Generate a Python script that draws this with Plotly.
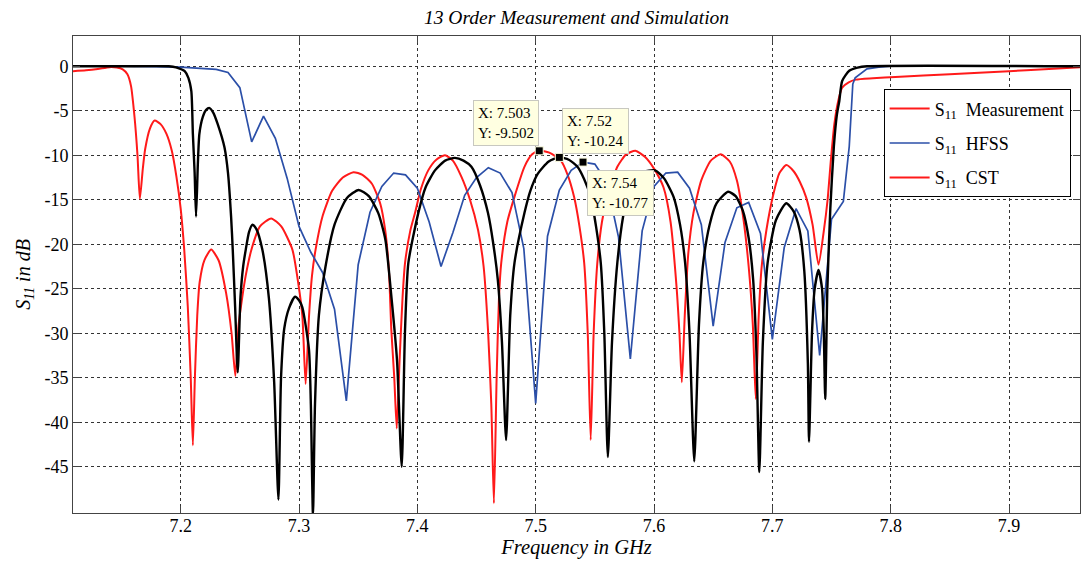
import plotly.graph_objects as go

# ---------------- data ----------------
meas_f = [7.109, 7.12, 7.13, 7.140, 7.146, 7.151, 7.155, 7.158, 7.161, 7.1635, 7.1655, 7.168, 7.170, 7.174,
          7.178, 7.183, 7.188, 7.1925, 7.1964, 7.200, 7.203, 7.206, 7.2085, 7.2103, 7.212, 7.214, 7.216, 7.220,
          7.2258, 7.232, 7.2384, 7.243, 7.2462, 7.249, 7.252, 7.255, 7.260, 7.267, 7.2765, 7.285, 7.2944, 7.2995,
          7.3028, 7.3056, 7.3085, 7.311, 7.314, 7.320, 7.328, 7.337, 7.346, 7.3536, 7.3616, 7.3688, 7.3728, 7.376,
          7.378, 7.3805, 7.3826, 7.385, 7.3875, 7.3896, 7.394, 7.398, 7.403, 7.4092, 7.416, 7.4233, 7.430, 7.4372,
          7.4445, 7.4513, 7.456, 7.4597, 7.4625, 7.4647, 7.467, 7.4690, 7.4709, 7.476, 7.482, 7.4905, 7.497, 7.503,
          7.5115, 7.5213, 7.527, 7.5325, 7.537, 7.541, 7.5440, 7.5465, 7.549, 7.5521, 7.5560, 7.5605, 7.569, 7.5765,
          7.5843, 7.5925, 7.600, 7.608, 7.614, 7.619, 7.6215, 7.6235, 7.626, 7.629, 7.6333, 7.640, 7.648, 7.6563,
          7.664, 7.670, 7.6753, 7.680, 7.6835, 7.686, 7.6885, 7.691, 7.695, 7.701, 7.706, 7.7118, 7.718, 7.7233,
          7.7285, 7.734, 7.739, 7.7435, 7.7467, 7.7495, 7.7524, 7.7555, 7.759, 7.7645, 7.7706, 7.785, 7.804, 7.85,
          7.90, 7.93, 7.96]
meas_db = [-0.55, -0.45, -0.3, -0.1, -0.15, -0.35, -0.9, -2.2, -5.7, -10, -14.9, -11.5, -9.3, -7.0,
           -6.1, -6.5, -7.6, -9.5, -12.4, -16, -20.6, -27, -35, -42.6, -35, -28, -24.3, -21.8,
           -20.6, -21.8, -25.5, -30, -34.8, -29, -26, -23.5, -20.5, -18.0, -17.1, -18.0, -20.6, -24.5,
           -28, -35.7, -28, -23.5, -20.6, -16.8, -14.0, -12.5, -11.9, -12.2, -13.2, -15.5, -18.4, -23,
           -29.6, -35, -40.7, -33, -26, -22.1, -18.5, -16.5, -13.8, -11.7, -10.5, -10.0, -10.6, -12.4,
           -15, -18.4, -22.5, -29.6, -38, -49.1, -35, -26, -22.1, -17.5, -14.7, -11.3, -9.9, -9.5,
           -9.7, -10.6, -12.2, -14.7, -18, -22.1, -30, -42, -30, -22.1, -17.5, -14.7, -11.3, -9.9,
           -9.5, -10.2, -11.5, -13.6, -17.5, -24.7, -30, -35.5, -28, -21, -16.5, -12.8, -10.6, -9.9,
           -10.7, -12.8, -16.9, -22.5, -29, -37.4, -28, -22.5, -18.4, -14.3, -12.0, -11.1, -11.8, -13.0,
           -14.7, -17.8, -22.3, -18.5, -15, -10.5, -6.5, -4.0, -2.4, -1.8, -1.5, -1.35, -1.2, -0.9,
           -0.55, -0.35, -0.1]

hfss_f = [7.109, 7.15, 7.20, 7.23, 7.24, 7.25, 7.26, 7.27, 7.28, 7.29, 7.30, 7.31, 7.32, 7.33, 7.34, 7.35,
          7.36, 7.37, 7.38, 7.39, 7.40, 7.41, 7.42, 7.43, 7.44, 7.45, 7.46, 7.47, 7.48, 7.49, 7.50, 7.51,
          7.52, 7.53, 7.54, 7.55, 7.56, 7.57, 7.58, 7.59, 7.60, 7.61, 7.62, 7.63, 7.64, 7.65, 7.66, 7.67,
          7.68, 7.69, 7.70, 7.71, 7.72, 7.73, 7.74, 7.75, 7.76, 7.765, 7.768, 7.77, 7.78, 7.79, 7.80, 7.96]
hfss_db = [0, 0, -0.1, -0.35, -0.7, -2.4, -8.5, -5.6, -8.1, -12.6, -18, -20.9, -23.2, -27.3, -37.6, -22.3,
           -16.4, -13.5, -12.0, -12.2, -13.7, -17.5, -22.5, -18.7, -14.5, -12.5, -11.4, -12.0, -14.2, -20.5, -37.9, -19.1,
           -13.9, -11.7, -10.77, -11.0, -13.0, -19.2, -32.9, -18.5, -13.5, -12.0, -11.9, -13.7, -17.8, -29.2, -19.8, -15.9,
           -15.3, -18.8, -30.7, -20.4, -16.0, -18.5, -32.5, -17.2, -15.2, -9.0, -2.0, -1.3, -0.3, -0.1, 0, 0]

cst_f = [7.109, 7.15, 7.19, 7.1935, 7.198, 7.2034, 7.2065, 7.209, 7.2103, 7.2118, 7.213, 7.2145, 7.2158, 7.2187,
         7.2215, 7.2244, 7.2275, 7.2313, 7.237, 7.240, 7.2426, 7.244, 7.246, 7.2482, 7.2505, 7.2528, 7.255, 7.2578,
         7.2608, 7.264, 7.269, 7.2745, 7.279, 7.2826, 7.2848, 7.2875, 7.2915, 7.2966, 7.300, 7.3028, 7.3084,
         7.310, 7.3118, 7.3135, 7.3168, 7.3224, 7.330, 7.3405, 7.3504, 7.359, 7.367, 7.373, 7.378, 7.3828, 7.3868,
         7.3895, 7.3924, 7.4008, 7.407, 7.4149, 7.4235, 7.4317, 7.439, 7.4457, 7.453, 7.4597, 7.464, 7.468, 7.4715,
         7.475, 7.4785, 7.4821, 7.4905, 7.4955, 7.5017, 7.511, 7.52, 7.528, 7.5353, 7.541, 7.5465, 7.551, 7.555,
         7.558, 7.561, 7.5645, 7.569, 7.574, 7.58, 7.590, 7.601, 7.6085, 7.6166, 7.622, 7.6263, 7.630, 7.634,
         7.638, 7.6416, 7.647, 7.6528, 7.6626, 7.669, 7.675, 7.680, 7.6838, 7.6865, 7.689, 7.692, 7.696, 7.703,
         7.7118, 7.718, 7.723, 7.727, 7.730, 7.731, 7.7335, 7.7357, 7.739, 7.742, 7.7435, 7.7447, 7.7465, 7.749,
         7.752, 7.7545, 7.7566, 7.759, 7.765, 7.772, 7.78, 7.96]
cst_db = [0, 0, 0, -0.05, -0.2, -0.55, -1.3, -2.8, -7.6, -12, -16.9, -11, -7.6, -5.7,
          -4.9, -4.7, -5.2, -6.5, -9.1, -12, -16.9, -20.6, -27, -34.4, -26, -22.5, -20.6, -18.6,
          -17.8, -18.3, -20.6, -26, -35.5, -48.7, -35, -29.5, -27.2, -25.9, -26.3, -27.1, -31.8,
          -38, -50.5, -38, -28, -22.5, -17.8, -14.8, -13.9, -14.6, -16.5, -19.5, -25.8, -33, -45,
          -30, -22.1, -16.5, -13.6, -11.7, -10.6, -10.3, -10.6, -11.3, -13.4, -16.5, -19.8, -24, -31,
          -42, -28, -22.1, -16.5, -14, -12.1, -10.7, -10.24, -10.5, -11.3, -12.7, -14.7, -18, -22.1,
          -30, -43.9, -31, -22.1, -16.8, -13.2, -11.9, -11.7, -12.6, -14.7, -17.8, -22.1, -30, -44.4,
          -29, -22.1, -17.8, -15.4, -14.1, -14.6, -16.2, -19.3, -24, -32, -45.6, -31, -22.1, -17.3,
          -15.4, -16.3, -18.4, -23, -33.3, -42.2, -30, -25.1, -22.9, -25, -30, -37.4, -25, -16,
          -9, -5.5, -3.9, -1.65, -0.5, -0.15, 0, 0]

tip_f = [7.503, 7.52, 7.54]
tip_db = [-9.502, -10.24, -10.77]
tip_text = ["X: 7.503<br>Y: -9.502", "X: 7.52<br>Y: -10.24", "X: 7.54<br>Y: -10.77"]

x_ticks = [7.2, 7.3, 7.4, 7.5, 7.6, 7.7, 7.8, 7.9]
x_tick_labels = ["7.2", "7.3", "7.4", "7.5", "7.6", "7.7", "7.8", "7.9"]
y_ticks = [0, -5, -10, -15, -20, -25, -30, -35, -40, -45]
y_tick_labels = ["0", "-5", "-10", "-15", "-20", "-25", "-30", "-35", "-40", "-45"]

names = ["S<sub>11</sub>  Measurement", "S<sub>11</sub>  HFSS", "S<sub>11</sub>  CST"]

# ---------------- figure ----------------
FONT = "Times New Roman, Liberation Serif, serif"
RED = "#FF1A1A"
BLUE = "#2B4FA8"
BLACK = "#000000"

fig = go.Figure()
fig.add_trace(go.Scatter(x=meas_f, y=meas_db, mode="lines", name=names[0], legendgroup="a",
                         line=dict(color=RED, width=2, shape="spline", smoothing=0.6)))
fig.add_trace(go.Scatter(x=hfss_f, y=hfss_db, mode="lines", name=names[1], legendgroup="b",
                         line=dict(color=BLUE, width=1.7)))
fig.add_trace(go.Scatter(x=cst_f, y=cst_db, mode="lines", name=names[2], showlegend=False,
                         legendgroup="c",
                         line=dict(color=BLACK, width=2.4, shape="spline", smoothing=0.6)))
# legend entry as in the original figure (drawn in red)
fig.add_trace(go.Scatter(x=[None], y=[None], mode="lines", name=names[2], legendgroup="c",
                         line=dict(color=RED, width=2)))
fig.add_trace(go.Scatter(x=tip_f, y=tip_db, mode="markers", showlegend=False, legendgroup="d",
                         marker=dict(symbol="square", size=8, color="black",
                                     line=dict(color="#FFFFE1", width=1))))

anchors = [("right", "bottom", 0, 5), ("left", "bottom", 3, 3), ("left", "top", 4, -8)]
for (f, d, t), (xa, ya, xs, ys) in zip(zip(tip_f, tip_db, tip_text), anchors):
    fig.add_annotation(x=f, y=d, text=t, showarrow=False, xanchor=xa, yanchor=ya,
                       xshift=xs, yshift=ys, align="left",
                       bgcolor="#FFFFE1", bordercolor="#C8C8C0", borderwidth=1, borderpad=4,
                       font=dict(family=FONT, size=15, color="black"))

axis_common = dict(showline=True, linecolor="#444444", linewidth=1, mirror="ticks",
                   ticks="inside", ticklen=7, tickcolor="#444444",
                   showgrid=True, gridcolor="#333333", griddash="dot", gridwidth=1,
                   zeroline=False)

fig.update_layout(
    width=1082, height=561,
    margin=dict(l=73, r=2, t=36, b=48, autoexpand=False),
    paper_bgcolor="white", plot_bgcolor="white",
    font=dict(family=FONT, color="black", size=18),
    title=dict(text="<i>13 Order Measurement and Simulation</i>", x=0.5, xref="paper",
               y=1 - 17 / 561, yref="container", yanchor="middle",
               font=dict(family=FONT, size=19.5, color="black")),
    xaxis=dict(range=[7.109, 7.96], tickvals=x_ticks, ticktext=x_tick_labels, automargin=False,
               ticklabelstandoff=-4,
               title=dict(text="<i>Frequency in GHz</i>", standoff=0,
                          font=dict(family=FONT, size=20.5, color="black")),
               **axis_common),
    yaxis=dict(range=[-50.2, 3.4], tickvals=y_ticks, ticktext=y_tick_labels, automargin=False,
               title=dict(text="<i>S<sub>11</sub> in dB</i>", standoff=8,
                          font=dict(family=FONT, size=20, color="black")),
               **axis_common),
    legend=dict(x=0.805, y=0.888, xanchor="left", yanchor="top",
                bgcolor="white", bordercolor="black", borderwidth=1,
                font=dict(family=FONT, size=18, color="black"),
                itemwidth=40, tracegroupgap=8, traceorder="grouped"),
    showlegend=True,
)
fig.update_xaxes(tickfont=dict(family=FONT, size=18, color="black"))
fig.update_yaxes(tickfont=dict(family=FONT, size=18, color="black"))

fig.write_html("out.html", config={"displayModeBar": False},
               post_script="document.body.style.margin='0';")
